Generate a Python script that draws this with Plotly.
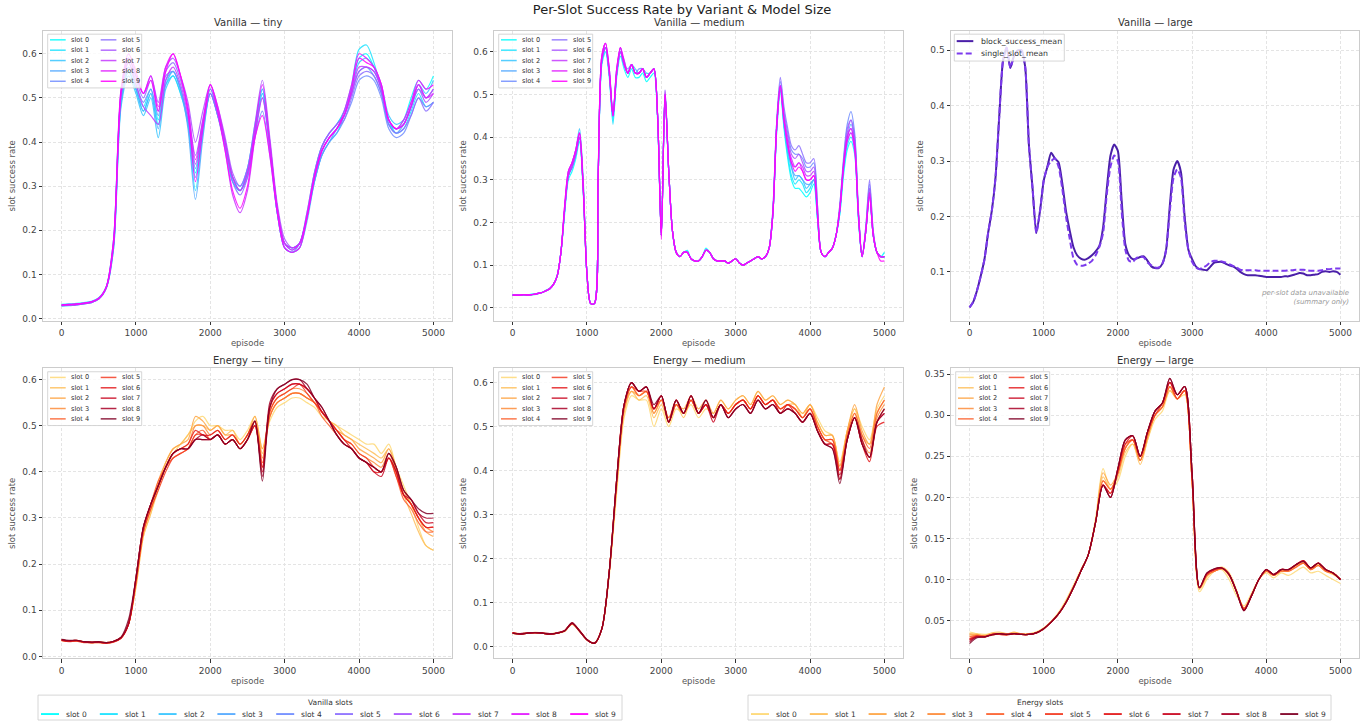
import plotly.graph_objects as go

# ---------------- data ----------------
EPISODES_100 = list(range(0, 5001, 100))
EPISODES_50 = list(range(0, 5001, 50))
SLOT_LABELS = [f"slot {k}" for k in range(10)]
X_TICKS = [0, 1000, 2000, 3000, 4000, 5000]

# Vanilla - tiny (every 100 episodes), slots 0..9
VANILLA_TINY = [
    [.032,.033,.034,.036,.039,.047,.072,.18,.50,.56,.52,.47,.51,.44,.53,.55,.51,.45,.33,.43,.51,.46,.39,.31,.29,.33,.42,.51,.39,.24,.17,.16,.17,.23,.31,.37,.40,.42,.46,.52,.59,.60,.57,.52,.44,.43,.45,.50,.54,.52,.55],
    [.030,.031,.032,.034,.037,.045,.070,.17,.49,.56,.52,.48,.52,.45,.54,.56,.52,.44,.29,.42,.51,.46,.39,.31,.29,.34,.43,.52,.39,.24,.16,.15,.16,.23,.33,.39,.42,.44,.47,.53,.61,.62,.58,.52,.45,.42,.43,.47,.51,.48,.49],
    [.028,.029,.031,.033,.036,.044,.069,.16,.48,.55,.51,.46,.50,.41,.52,.55,.51,.44,.32,.43,.51,.46,.40,.32,.30,.34,.44,.52,.40,.25,.17,.155,.17,.24,.33,.39,.42,.44,.47,.52,.58,.59,.57,.53,.46,.44,.45,.49,.53,.51,.54],
    [.029,.030,.031,.033,.036,.044,.068,.16,.49,.56,.52,.47,.51,.43,.53,.56,.52,.43,.27,.41,.51,.47,.40,.32,.29,.33,.42,.51,.39,.24,.16,.15,.16,.22,.31,.37,.40,.43,.46,.51,.56,.57,.55,.51,.44,.42,.44,.48,.52,.50,.52],
    [.031,.032,.033,.035,.038,.046,.071,.17,.50,.57,.53,.49,.52,.46,.55,.56,.52,.45,.34,.44,.52,.47,.40,.32,.29,.32,.41,.47,.37,.24,.16,.15,.17,.23,.31,.37,.40,.42,.45,.49,.54,.55,.54,.50,.43,.41,.42,.46,.50,.48,.49],
    [.030,.031,.032,.034,.037,.045,.070,.17,.51,.58,.54,.50,.54,.47,.56,.58,.54,.47,.37,.45,.52,.47,.40,.31,.28,.32,.42,.50,.39,.25,.17,.16,.17,.23,.32,.38,.41,.43,.45,.50,.55,.56,.55,.51,.44,.42,.43,.46,.50,.47,.49],
    [.031,.032,.033,.035,.038,.046,.071,.18,.52,.59,.55,.51,.55,.49,.57,.59,.55,.49,.40,.47,.53,.48,.41,.33,.30,.34,.44,.54,.41,.26,.18,.16,.17,.23,.32,.38,.41,.43,.46,.51,.56,.57,.56,.52,.45,.43,.44,.48,.52,.49,.51],
    [.029,.030,.031,.033,.036,.044,.069,.17,.51,.58,.53,.48,.46,.44,.54,.57,.53,.46,.35,.44,.51,.46,.38,.28,.24,.29,.41,.50,.39,.25,.17,.16,.17,.24,.33,.39,.42,.44,.46,.51,.57,.57,.56,.52,.45,.43,.44,.48,.53,.50,.52],
    [.030,.031,.032,.034,.037,.045,.070,.17,.51,.59,.55,.51,.55,.48,.57,.60,.55,.48,.36,.45,.53,.48,.40,.32,.29,.33,.43,.53,.40,.25,.17,.155,.17,.23,.32,.38,.41,.43,.47,.53,.60,.59,.57,.53,.45,.43,.44,.48,.53,.50,.51],
    [.031,.032,.033,.035,.038,.046,.071,.18,.52,.60,.56,.51,.54,.47,.56,.60,.55,.47,.31,.43,.53,.47,.38,.29,.25,.30,.41,.46,.37,.24,.16,.15,.16,.23,.32,.38,.41,.43,.46,.52,.59,.58,.57,.53,.45,.43,.45,.49,.54,.52,.53],
]

# Vanilla - medium (every 50 episodes), slots 0..9
VANILLA_MEDIUM = [
    [.031,.030,.031,.031,.030,.032,.032,.035,.036,.041,
     .045,.055,.075,.13,.22,.30,.32,.35,.39,.27,
     .08,.01,.01,.30,.57,.60,.54,.44,.54,.59,
     .56,.54,.56,.54,.54,.55,.53,.54,.55,.44,
     .17,.50,.32,.18,.13,.12,.13,.135,.115,.11,
     .11,.12,.14,.13,.115,.11,.11,.11,.105,.11,
     .115,.105,.10,.105,.11,.115,.12,.115,.12,.14,
     .22,.41,.51,.42,.35,.30,.28,.28,.27,.26,
     .27,.29,.21,.13,.12,.13,.14,.17,.22,.31,
     .37,.39,.36,.21,.12,.18,.26,.17,.13,.12,
     .13],
    [.029,.030,.030,.030,.030,.031,.031,.034,.036,.040,
     .045,.055,.076,.13,.23,.31,.33,.36,.40,.28,
     .08,.01,.01,.30,.58,.61,.55,.43,.55,.61,
     .57,.55,.57,.55,.55,.56,.54,.55,.56,.45,
     .17,.51,.32,.18,.13,.12,.13,.13,.115,.11,
     .11,.12,.135,.13,.115,.11,.11,.11,.105,.11,
     .115,.105,.10,.105,.11,.115,.12,.115,.12,.14,
     .22,.42,.52,.43,.36,.31,.29,.30,.29,.27,
     .28,.30,.21,.13,.12,.13,.14,.17,.22,.32,
     .38,.40,.37,.21,.12,.18,.27,.17,.13,.12,
     .12],
    [.030,.031,.030,.031,.031,.031,.032,.034,.037,.040,
     .045,.055,.075,.13,.23,.32,.34,.37,.42,.30,
     .08,.01,.01,.30,.58,.61,.56,.45,.56,.60,
     .58,.55,.57,.56,.55,.56,.55,.55,.56,.45,
     .17,.50,.32,.18,.13,.12,.13,.13,.115,.11,
     .11,.12,.135,.13,.115,.11,.11,.11,.105,.11,
     .115,.105,.10,.105,.11,.115,.12,.115,.12,.14,
     .22,.42,.52,.43,.37,.33,.30,.31,.30,.28,
     .29,.30,.21,.13,.12,.13,.14,.17,.23,.33,
     .39,.41,.38,.22,.12,.18,.28,.17,.13,.12,
     .12],
    [.030,.030,.029,.031,.030,.031,.032,.034,.036,.040,
     .045,.055,.075,.13,.23,.31,.33,.36,.40,.28,
     .08,.01,.01,.30,.58,.61,.55,.45,.55,.60,
     .57,.55,.57,.55,.55,.56,.54,.55,.56,.45,
     .17,.50,.32,.18,.13,.12,.13,.13,.115,.11,
     .11,.12,.135,.13,.115,.11,.11,.11,.105,.11,
     .115,.105,.10,.105,.11,.115,.12,.115,.12,.14,
     .22,.41,.51,.43,.37,.33,.31,.31,.30,.29,
     .29,.30,.22,.13,.12,.13,.14,.17,.23,.33,
     .40,.43,.39,.22,.12,.18,.27,.17,.13,.12,
     .12],
    [.031,.030,.031,.031,.030,.031,.033,.034,.036,.041,
     .046,.056,.075,.13,.23,.31,.33,.36,.40,.28,
     .08,.01,.01,.30,.58,.61,.55,.46,.55,.60,
     .57,.56,.57,.55,.56,.56,.54,.55,.56,.45,
     .17,.50,.32,.18,.13,.12,.13,.13,.115,.11,
     .11,.12,.135,.13,.115,.11,.11,.11,.105,.11,
     .115,.105,.10,.105,.11,.115,.12,.115,.12,.14,
     .23,.43,.53,.46,.41,.37,.36,.36,.35,.33,
     .33,.34,.24,.13,.12,.13,.14,.17,.24,.35,
     .43,.46,.41,.23,.12,.19,.29,.18,.13,.12,
     .12],
    [.030,.030,.030,.031,.030,.031,.032,.034,.036,.040,
     .045,.055,.075,.13,.23,.31,.33,.36,.40,.28,
     .08,.01,.01,.30,.58,.61,.55,.45,.55,.60,
     .57,.55,.57,.55,.55,.56,.54,.55,.56,.45,
     .17,.50,.32,.18,.13,.12,.13,.13,.115,.11,
     .11,.12,.135,.13,.115,.11,.11,.11,.105,.11,
     .115,.105,.10,.105,.11,.115,.12,.115,.12,.14,
     .23,.43,.54,.47,.42,.38,.37,.38,.36,.34,
     .34,.35,.24,.13,.12,.13,.14,.17,.24,.34,
     .42,.44,.40,.23,.12,.19,.30,.18,.13,.12,
     .12],
    [.029,.030,.030,.031,.030,.030,.032,.034,.036,.040,
     .045,.055,.075,.13,.23,.31,.34,.37,.41,.29,
     .08,.01,.01,.30,.59,.62,.55,.45,.55,.61,
     .57,.55,.57,.55,.55,.56,.54,.55,.56,.45,
     .17,.50,.32,.18,.13,.12,.13,.13,.115,.11,
     .11,.12,.135,.13,.115,.11,.11,.11,.105,.11,
     .115,.105,.10,.105,.11,.115,.12,.115,.12,.14,
     .22,.42,.52,.45,.40,.36,.35,.36,.34,.32,
     .32,.33,.23,.13,.12,.13,.14,.17,.23,.34,
     .41,.44,.39,.22,.12,.18,.28,.17,.13,.12,
     .12],
    [.030,.030,.030,.031,.030,.031,.032,.034,.036,.040,
     .045,.055,.075,.13,.23,.31,.33,.36,.40,.28,
     .08,.01,.01,.30,.58,.61,.55,.45,.55,.60,
     .57,.55,.57,.55,.55,.56,.54,.55,.56,.45,
     .17,.50,.32,.18,.13,.12,.13,.13,.115,.11,
     .11,.12,.135,.13,.115,.11,.11,.11,.105,.11,
     .115,.105,.10,.105,.11,.115,.12,.115,.12,.14,
     .22,.42,.52,.44,.38,.35,.33,.34,.33,.31,
     .31,.32,.22,.13,.12,.13,.14,.17,.23,.33,
     .40,.42,.38,.22,.12,.18,.27,.17,.13,.12,
     .12],
    [.031,.030,.030,.031,.031,.031,.032,.035,.036,.040,
     .045,.055,.075,.13,.24,.32,.34,.37,.41,.28,
     .08,.01,.01,.31,.59,.62,.56,.45,.56,.61,
     .57,.55,.57,.55,.55,.56,.54,.55,.56,.45,
     .17,.50,.32,.18,.13,.12,.13,.13,.115,.11,
     .11,.12,.135,.13,.115,.11,.11,.11,.105,.11,
     .115,.105,.10,.105,.11,.115,.12,.115,.12,.14,
     .22,.42,.52,.44,.39,.34,.33,.34,.32,.30,
     .30,.31,.22,.13,.12,.13,.14,.17,.23,.33,
     .40,.42,.38,.22,.12,.18,.27,.17,.13,.12,
     .12],
    [.030,.030,.030,.031,.030,.031,.032,.034,.036,.040,
     .045,.055,.075,.13,.24,.32,.34,.37,.41,.28,
     .08,.01,.01,.31,.59,.62,.56,.45,.56,.61,
     .58,.55,.57,.55,.55,.56,.54,.55,.56,.45,
     .16,.51,.32,.18,.13,.12,.13,.13,.115,.11,
     .11,.12,.135,.13,.115,.11,.11,.11,.105,.11,
     .115,.105,.10,.105,.11,.115,.12,.115,.12,.14,
     .22,.42,.52,.44,.38,.34,.32,.33,.32,.30,
     .30,.31,.22,.13,.12,.13,.14,.17,.23,.33,
     .39,.41,.37,.22,.12,.18,.26,.17,.13,.11,
     .11],
]

# Vanilla - large (every 50 episodes): summary series only
VANILLA_LARGE_BLOCK = [
    .036,.046,.066,.092,.122,.17,.21,.27,.38,.48,
    .505,.468,.49,.50,.50,.47,.33,.25,.17,.21,
    .265,.29,.315,.305,.298,.26,.21,.175,.145,.13,
    .124,.122,.125,.13,.137,.147,.18,.25,.31,.33,
    .318,.23,.15,.13,.123,.124,.127,.128,.12,.11,
    .107,.107,.115,.14,.22,.285,.30,.28,.20,.14,
    .123,.11,.105,.104,.103,.11,.117,.118,.118,.115,
    .112,.11,.106,.10,.096,.094,.094,.094,.093,.092,
    .091,.091,.091,.091,.091,.092,.092,.094,.096,.098,
    .097,.094,.094,.095,.096,.10,.101,.10,.101,.10,
    .095]
VANILLA_LARGE_SINGLE = [
    .036,.046,.066,.092,.122,.17,.21,.27,.38,.48,
    .505,.468,.49,.50,.50,.47,.33,.25,.17,.21,
    .265,.29,.30,.305,.29,.25,.20,.16,.125,.113,
    .111,.112,.115,.12,.13,.145,.17,.24,.29,.31,
    .30,.21,.14,.12,.118,.125,.128,.126,.117,.112,
    .108,.108,.115,.14,.21,.27,.285,.27,.19,.14,
    .118,.108,.105,.108,.112,.118,.12,.12,.119,.117,
    .114,.111,.108,.104,.103,.103,.103,.103,.102,.102,
    .102,.102,.102,.102,.102,.102,.103,.103,.104,.104,
    .104,.103,.102,.102,.102,.103,.105,.105,.106,.106,
    .106]

# Energy - tiny (every 100 episodes), slots 0..9
ENERGY_TINY = [
    [.036,.034,.035,.032,.031,.032,.030,.033,.041,.07,.15,.26,.31,.36,.41,.44,.46,.48,.51,.52,.50,.50,.49,.49,.47,.49,.52,.45,.51,.54,.55,.56,.56,.55,.54,.52,.51,.50,.49,.48,.47,.46,.46,.44,.46,.41,.37,.33,.28,.24,.23],
    [.034,.033,.033,.031,.030,.030,.029,.032,.040,.07,.15,.26,.31,.37,.42,.45,.46,.48,.50,.50,.49,.50,.48,.49,.46,.48,.51,.44,.52,.55,.56,.57,.57,.56,.55,.53,.51,.50,.48,.47,.46,.45,.44,.43,.45,.40,.35,.31,.27,.24,.23],
    [.035,.034,.034,.031,.030,.031,.030,.032,.041,.07,.16,.27,.32,.38,.42,.45,.46,.47,.52,.51,.49,.50,.48,.48,.46,.48,.52,.45,.52,.55,.56,.57,.57,.56,.55,.53,.51,.49,.48,.47,.45,.44,.43,.42,.45,.41,.36,.33,.30,.27,.26],
    [.036,.033,.034,.032,.030,.031,.029,.032,.040,.07,.16,.27,.32,.37,.41,.44,.45,.46,.50,.50,.48,.49,.47,.48,.46,.48,.51,.43,.53,.56,.57,.58,.58,.57,.55,.53,.51,.49,.47,.46,.44,.43,.42,.41,.44,.40,.35,.33,.30,.28,.27],
    [.035,.033,.034,.031,.030,.031,.029,.032,.040,.07,.16,.27,.33,.38,.41,.43,.44,.45,.48,.49,.47,.48,.46,.47,.45,.47,.50,.42,.52,.55,.56,.57,.57,.56,.55,.52,.50,.48,.46,.45,.43,.42,.41,.40,.43,.39,.34,.32,.29,.27,.27],
    [.034,.032,.033,.030,.030,.030,.029,.031,.039,.07,.16,.27,.32,.36,.40,.43,.44,.45,.48,.48,.47,.48,.46,.47,.45,.47,.50,.41,.53,.56,.57,.58,.59,.57,.55,.53,.51,.49,.47,.46,.44,.43,.41,.40,.43,.39,.35,.33,.30,.28,.28],
    [.036,.034,.035,.032,.031,.031,.030,.033,.041,.07,.17,.28,.33,.37,.41,.44,.45,.46,.49,.48,.48,.49,.47,.48,.46,.48,.51,.41,.54,.57,.58,.59,.59,.58,.56,.53,.51,.49,.47,.45,.43,.42,.40,.40,.43,.40,.35,.33,.30,.28,.28],
    [.035,.033,.034,.031,.030,.031,.029,.032,.040,.07,.17,.28,.33,.37,.41,.44,.45,.45,.47,.47,.47,.48,.46,.47,.45,.47,.50,.40,.54,.57,.58,.59,.59,.58,.56,.53,.51,.48,.46,.45,.43,.42,.40,.39,.43,.40,.35,.34,.31,.29,.29],
    [.036,.034,.035,.032,.031,.031,.030,.033,.041,.07,.17,.28,.33,.37,.41,.44,.45,.45,.47,.48,.47,.48,.46,.47,.45,.47,.51,.39,.55,.58,.59,.60,.60,.58,.56,.54,.51,.48,.46,.45,.43,.42,.41,.40,.44,.41,.36,.34,.31,.30,.30],
    [.037,.035,.035,.032,.031,.032,.030,.033,.042,.08,.17,.28,.33,.37,.41,.44,.45,.45,.47,.47,.47,.48,.46,.47,.45,.47,.51,.38,.54,.58,.59,.60,.60,.59,.56,.54,.51,.48,.46,.45,.43,.42,.41,.40,.44,.41,.36,.34,.32,.31,.31],
]

# Energy - medium (every 100 episodes), slots 0..9
ENERGY_MEDIUM = [
    [.029,.028,.031,.031,.030,.029,.030,.034,.050,.034,.015,.008,.04,.16,.35,.52,.57,.56,.56,.50,.54,.50,.54,.53,.55,.52,.54,.53,.56,.54,.56,.57,.55,.58,.56,.57,.55,.56,.55,.53,.55,.52,.49,.48,.42,.49,.54,.50,.47,.54,.57],
    [.031,.029,.030,.031,.030,.028,.030,.035,.052,.036,.016,.007,.04,.17,.36,.53,.58,.56,.57,.52,.55,.51,.55,.52,.56,.53,.55,.52,.55,.53,.55,.56,.54,.57,.55,.56,.54,.55,.55,.52,.55,.51,.48,.48,.41,.49,.54,.48,.46,.53,.56],
    [.030,.028,.030,.032,.031,.028,.031,.035,.053,.035,.015,.007,.04,.17,.37,.54,.58,.57,.58,.53,.56,.52,.55,.54,.57,.54,.56,.53,.56,.54,.56,.57,.55,.58,.56,.57,.55,.56,.55,.53,.55,.51,.48,.48,.41,.49,.55,.49,.46,.55,.59],
    [.030,.029,.030,.031,.030,.028,.030,.035,.052,.035,.015,.007,.04,.17,.37,.54,.59,.57,.58,.53,.56,.51,.55,.53,.56,.53,.55,.52,.55,.53,.55,.56,.54,.57,.55,.56,.54,.55,.54,.52,.54,.50,.47,.47,.40,.48,.53,.47,.44,.52,.55],
    [.031,.028,.030,.031,.030,.028,.030,.035,.052,.035,.015,.007,.04,.17,.37,.54,.59,.57,.58,.54,.56,.52,.56,.53,.56,.53,.55,.52,.55,.53,.55,.56,.54,.57,.55,.56,.54,.55,.54,.52,.54,.50,.47,.46,.40,.48,.53,.48,.45,.53,.56],
    [.030,.028,.030,.031,.030,.028,.030,.035,.052,.035,.015,.007,.04,.17,.38,.55,.59,.58,.58,.54,.57,.51,.55,.53,.56,.53,.55,.52,.55,.53,.55,.56,.54,.57,.55,.56,.54,.55,.54,.52,.54,.50,.47,.47,.40,.47,.52,.46,.43,.51,.54],
    [.031,.029,.030,.031,.030,.028,.030,.036,.053,.036,.015,.007,.04,.17,.38,.55,.60,.58,.59,.54,.57,.51,.56,.53,.57,.53,.55,.52,.55,.53,.55,.56,.54,.57,.55,.56,.53,.55,.53,.51,.53,.49,.46,.46,.38,.47,.52,.46,.42,.50,.51],
    [.030,.028,.030,.031,.030,.028,.030,.035,.052,.035,.015,.007,.04,.17,.38,.55,.60,.58,.59,.54,.57,.51,.56,.53,.57,.53,.55,.51,.55,.52,.54,.55,.53,.56,.54,.55,.53,.54,.53,.51,.53,.49,.46,.46,.39,.47,.52,.46,.43,.51,.53],
    [.031,.029,.031,.031,.031,.029,.031,.036,.054,.036,.016,.008,.04,.17,.38,.55,.60,.58,.59,.54,.57,.51,.56,.53,.57,.53,.56,.52,.55,.52,.54,.55,.53,.56,.54,.55,.53,.54,.53,.51,.53,.49,.46,.45,.38,.47,.52,.47,.43,.51,.53],
    [.030,.028,.030,.031,.030,.028,.030,.035,.053,.035,.015,.007,.04,.17,.38,.55,.60,.58,.59,.55,.57,.51,.56,.53,.57,.53,.56,.52,.55,.52,.54,.55,.53,.56,.54,.55,.53,.54,.53,.51,.53,.49,.46,.45,.37,.47,.52,.46,.43,.51,.54],
]

# Energy - large (every 100 episodes), slots 0..9
ENERGY_LARGE = [
    [.036,.034,.033,.034,.035,.034,.035,.034,.033,.036,.041,.049,.060,.075,.093,.112,.13,.175,.235,.21,.22,.25,.265,.245,.27,.295,.305,.33,.32,.325,.22,.085,.10,.11,.112,.10,.08,.068,.083,.10,.108,.102,.108,.105,.11,.115,.108,.11,.105,.10,.095],
    [.034,.033,.032,.035,.036,.034,.035,.034,.034,.036,.041,.049,.059,.073,.091,.111,.13,.17,.225,.21,.225,.255,.265,.24,.27,.30,.31,.33,.32,.33,.22,.088,.103,.112,.115,.108,.087,.065,.08,.10,.11,.105,.11,.11,.117,.12,.113,.118,.11,.106,.10],
    [.033,.033,.031,.033,.034,.033,.036,.033,.034,.035,.040,.048,.058,.072,.09,.11,.13,.17,.23,.215,.23,.26,.27,.245,.275,.30,.31,.335,.32,.33,.22,.09,.105,.11,.113,.105,.085,.063,.08,.10,.11,.106,.11,.112,.117,.12,.112,.117,.11,.107,.10],
    [.031,.032,.031,.033,.034,.033,.034,.033,.033,.035,.040,.048,.058,.072,.09,.11,.13,.17,.22,.21,.23,.26,.27,.245,.275,.30,.31,.335,.32,.33,.22,.09,.105,.11,.113,.105,.085,.065,.08,.10,.11,.105,.11,.11,.115,.12,.112,.117,.11,.108,.10],
    [.030,.032,.031,.032,.034,.033,.034,.033,.033,.035,.040,.048,.058,.072,.09,.11,.13,.17,.22,.21,.23,.26,.27,.245,.275,.30,.31,.335,.32,.33,.22,.09,.105,.11,.113,.105,.085,.065,.08,.10,.11,.105,.11,.11,.115,.12,.112,.117,.11,.108,.10],
    [.028,.031,.030,.033,.033,.032,.034,.033,.033,.035,.040,.048,.058,.072,.09,.11,.13,.17,.215,.205,.23,.265,.27,.25,.28,.30,.315,.34,.32,.33,.22,.09,.107,.112,.114,.106,.085,.064,.08,.10,.112,.106,.112,.112,.118,.122,.114,.12,.112,.108,.10],
    [.027,.031,.030,.033,.034,.033,.034,.033,.033,.035,.040,.048,.058,.072,.09,.11,.13,.17,.215,.205,.235,.265,.275,.25,.28,.305,.315,.34,.325,.335,.23,.09,.107,.112,.114,.106,.085,.063,.08,.10,.112,.106,.112,.112,.118,.123,.114,.12,.112,.108,.10],
    [.026,.030,.030,.033,.034,.033,.034,.033,.033,.035,.040,.048,.058,.072,.09,.11,.13,.17,.215,.20,.235,.27,.275,.25,.28,.305,.315,.34,.325,.335,.23,.09,.107,.112,.114,.106,.085,.062,.08,.10,.112,.106,.112,.112,.118,.123,.114,.12,.112,.108,.10],
    [.024,.030,.030,.033,.034,.033,.034,.033,.033,.035,.040,.048,.058,.072,.09,.11,.13,.17,.215,.20,.235,.27,.275,.25,.28,.305,.315,.345,.325,.335,.23,.09,.108,.113,.114,.106,.085,.062,.08,.10,.112,.106,.112,.112,.118,.122,.114,.12,.112,.108,.10],
    [.022,.029,.030,.032,.034,.033,.034,.033,.033,.035,.040,.048,.058,.072,.09,.11,.13,.17,.215,.20,.235,.27,.275,.25,.28,.305,.315,.345,.325,.335,.23,.09,.108,.113,.114,.106,.085,.062,.08,.10,.112,.106,.112,.112,.118,.122,.114,.12,.112,.108,.10],
]

for block in (VANILLA_TINY, ENERGY_TINY, ENERGY_MEDIUM, ENERGY_LARGE):
    assert all(len(s) == 51 for s in block), [len(s) for s in block]
assert all(len(s) == 101 for s in VANILLA_MEDIUM), [len(s) for s in VANILLA_MEDIUM]
assert len(VANILLA_LARGE_BLOCK) == 101 and len(VANILLA_LARGE_SINGLE) == 101

# ---------------- styling ----------------
VANILLA_COLORS = ['#00ffff', '#1ce3ff', '#39c6ff', '#55aaff', '#718eff',
                  '#8e71ff', '#aa55ff', '#c639ff', '#e31cff', '#ff00ff']
ENERGY_COLORS = ['#fed976', '#febf5a', '#fea647', '#fd8d3c', '#fc6330',
                 '#f43d25', '#e31a1c', '#ca0923', '#a90026', '#800026']
BLOCK_COLOR = '#4a1fa8'
SINGLE_COLOR = '#7c3aed'
FONT = 'DejaVu Sans, sans-serif'

W, H = 1364, 727
# panel plot areas in pixels (x0, x1, y0_top, y1_bottom)
PANELS = [(43, 452, 31, 322), (494, 903, 31, 322), (951, 1359, 31, 322),
          (43, 452, 370, 661), (494, 903, 370, 661), (951, 1359, 370, 661)]
TITLES = ['Vanilla — tiny', 'Vanilla — medium', 'Vanilla — large',
          'Energy — tiny', 'Energy — medium', 'Energy — large']
Y_RANGES = [[-0.005, 0.652], [-0.03, 0.649], [0.012, 0.535],
            [-0.004, 0.624], [-0.027, 0.632], [0.004, 0.357]]

fig = go.Figure()
shapes = []
annotations = []


def axname(i):
    return ('x', 'y') if i == 1 else (f'x{i}', f'y{i}')


def add_slot_traces(i, episodes, series, colors):
    xa, ya = axname(i)
    for k, ys in enumerate(series):
        fig.add_trace(go.Scatter(
            x=episodes, y=ys, mode='lines', name=SLOT_LABELS[k],
            line=dict(color=colors[k], width=1.2, shape='spline', smoothing=0.8),
            opacity=0.85, showlegend=False, xaxis=xa, yaxis=ya, hoverinfo='skip'))


add_slot_traces(1, EPISODES_100, VANILLA_TINY, VANILLA_COLORS)
add_slot_traces(2, EPISODES_50, VANILLA_MEDIUM, VANILLA_COLORS)
fig.add_trace(go.Scatter(x=EPISODES_50, y=VANILLA_LARGE_BLOCK, mode='lines',
                         name='block_success_mean',
                         line=dict(color=BLOCK_COLOR, width=2, shape='spline', smoothing=0.6),
                         showlegend=False, xaxis='x3', yaxis='y3', hoverinfo='skip'))
fig.add_trace(go.Scatter(x=EPISODES_50, y=VANILLA_LARGE_SINGLE, mode='lines',
                         name='single_slot_mean',
                         line=dict(color=SINGLE_COLOR, width=2, dash='6px,3px', shape='spline', smoothing=0.6),
                         showlegend=False, xaxis='x3', yaxis='y3', hoverinfo='skip'))
add_slot_traces(4, EPISODES_100, ENERGY_TINY, ENERGY_COLORS)
add_slot_traces(5, EPISODES_100, ENERGY_MEDIUM, ENERGY_COLORS)
add_slot_traces(6, EPISODES_100, ENERGY_LARGE, ENERGY_COLORS)

layout = dict(
    width=W, height=H, autosize=False,
    margin=dict(l=0, r=0, t=0, b=0),
    paper_bgcolor='white', plot_bgcolor='white',
    font=dict(family=FONT, color='#444'),
    title=dict(text='Per-Slot Success Rate by Variant & Model Size',
               x=0.5, xanchor='center', y=1 - 9.5 / H, yanchor='middle',
               font=dict(size=13, color='#222', family=FONT)),
    showlegend=False,
)

GRID = dict(showgrid=True, gridcolor='#e4e4e4', griddash='3px,2px', gridwidth=0.8)

for i, (x0, x1, y0, y1) in enumerate(PANELS, start=1):
    xk = 'xaxis' if i == 1 else f'xaxis{i}'
    yk = 'yaxis' if i == 1 else f'yaxis{i}'
    xa, ya = axname(i)
    layout[xk] = dict(
        domain=[x0 / W, x1 / W], anchor=ya, range=[-250, 5250],
        tickvals=X_TICKS, ticks='outside', ticklen=3.5, tickwidth=0.8, tickcolor='#333',
        tickfont=dict(size=9, color='#444'),
        showline=True, linecolor='#cccccc', linewidth=1, mirror=True,
        zeroline=False, **GRID,
        title=dict(text='episode', font=dict(size=8.5, color='#555'), standoff=3))
    is_el = (i == 6)
    layout[yk] = dict(
        domain=[1 - y1 / H, 1 - y0 / H], anchor=xa, range=Y_RANGES[i - 1],
        tick0=0, dtick=0.05 if is_el else 0.1, tickformat='.2f' if is_el else '.1f',
        ticks='outside', ticklen=3.5, tickwidth=0.8, tickcolor='#333',
        tickfont=dict(size=9, color='#444'),
        showline=True, linecolor='#cccccc', linewidth=1, mirror=True,
        zeroline=False, **GRID,
        title=dict(text='slot success rate', font=dict(size=8.5, color='#555'), standoff=5))
    # subplot title
    annotations.append(dict(
        text=TITLES[i - 1], x=(x0 + x1) / 2 / W, y=1 - (y0 - 8) / H,
        xref='paper', yref='paper', xanchor='center', yanchor='middle',
        showarrow=False, font=dict(size=10, color='#333', family=FONT)))


def panel_legend(i, colors, labels):
    x0, x1, y0, y1 = PANELS[i - 1]
    pw, ph = x1 - x0, y1 - y0
    xa, ya = axname(i)
    xr, yr = f'{xa} domain', f'{ya} domain'
    fx = lambda p: p / pw
    fy = lambda p: 1 - p / ph
    shapes.append(dict(type='rect', xref=xr, yref=yr, x0=fx(4.7), x1=fx(98.7),
                       y0=fy(57.3), y1=fy(3.3), fillcolor='rgba(255,255,255,0.8)',
                       line=dict(color='#cccccc', width=0.8), layer='above'))
    for k, lab in enumerate(labels):
        c, r = divmod(k, 5)
        yc = fy(9 + 10.4 * r)
        lx = 7 + 50.7 * c
        shapes.append(dict(type='line', xref=xr, yref=yr, x0=fx(lx), x1=fx(lx + 15.7),
                           y0=yc, y1=yc, line=dict(color=colors[k], width=1.5),
                           opacity=0.85, layer='above'))
        annotations.append(dict(text=lab, xref=xr, yref=yr, x=fx(lx + 19), y=yc,
                                xanchor='left', yanchor='middle', showarrow=False,
                                font=dict(size=6.6, color='#333', family=FONT)))


for i, cols in ((1, VANILLA_COLORS), (2, VANILLA_COLORS), (4, ENERGY_COLORS),
                (5, ENERGY_COLORS), (6, ENERGY_COLORS)):
    panel_legend(i, cols, SLOT_LABELS)

# Vanilla-large legend
x0, x1, y0, y1 = PANELS[2]
pw, ph = x1 - x0, y1 - y0
shapes.append(dict(type='rect', xref='x3 domain', yref='y3 domain',
                   x0=3.3 / pw, x1=113.3 / pw, y0=1 - 30.3 / ph, y1=1 - 3.3 / ph,
                   fillcolor='rgba(255,255,255,0.8)', line=dict(color='#cccccc', width=0.8),
                   layer='above'))
for r, (lab, col, dash) in enumerate([('block_success_mean', BLOCK_COLOR, 'solid'),
                                      ('single_slot_mean', SINGLE_COLOR, '6px,3px')]):
    yc = 1 - (10.3 + 12.4 * r) / ph
    shapes.append(dict(type='line', xref='x3 domain', yref='y3 domain',
                       x0=5.7 / pw, x1=22.3 / pw, y0=yc, y1=yc,
                       line=dict(color=col, width=2, dash=dash), layer='above'))
    annotations.append(dict(text=lab, xref='x3 domain', yref='y3 domain',
                            x=28.3 / pw, y=yc, xanchor='left', yanchor='middle',
                            showarrow=False, font=dict(size=7.8, color='#333', family=FONT)))
annotations.append(dict(text='<i>per-slot data unavailable<br>(summary only)</i>',
                        xref='x3 domain', yref='y3 domain', x=1 - 8 / pw, y=(ph - 268) / ph,
                        xanchor='right', yanchor='middle', align='right', showarrow=False,
                        font=dict(size=7, color='#999999', family=FONT)))

# bottom figure legends
def bottom_legend(title, colors, bx0, bx1):
    shapes.append(dict(type='rect', xref='paper', yref='paper',
                       x0=bx0 / W, x1=bx1 / W, y0=1 - 723 / H, y1=1 - 698 / H,
                       fillcolor='white', line=dict(color='#cccccc', width=0.8)))
    annotations.append(dict(text=title, xref='paper', yref='paper',
                            x=(bx0 + bx1) / 2 / W, y=1 - 705.5 / H, xanchor='center',
                            yanchor='middle', showarrow=False,
                            font=dict(size=7.5, color='#333', family=FONT)))
    for k in range(10):
        lx = bx0 + 3 + 58.8 * k
        yc = 1 - 717 / H
        shapes.append(dict(type='line', xref='paper', yref='paper',
                           x0=lx / W, x1=(lx + 18) / W, y0=yc, y1=yc,
                           line=dict(color=colors[k], width=1.8)))
        annotations.append(dict(text=SLOT_LABELS[k], xref='paper', yref='paper',
                                x=(lx + 23) / W, y=yc, xanchor='left', yanchor='middle',
                                showarrow=False, font=dict(size=7.5, color='#333', family=FONT)))


bottom_legend('Vanilla slots', VANILLA_COLORS, 38, 622)
bottom_legend('Energy slots', ENERGY_COLORS, 748, 1331)

layout['shapes'] = shapes
layout['annotations'] = annotations
fig.update_layout(**layout)
fig.write_html('out.html')
